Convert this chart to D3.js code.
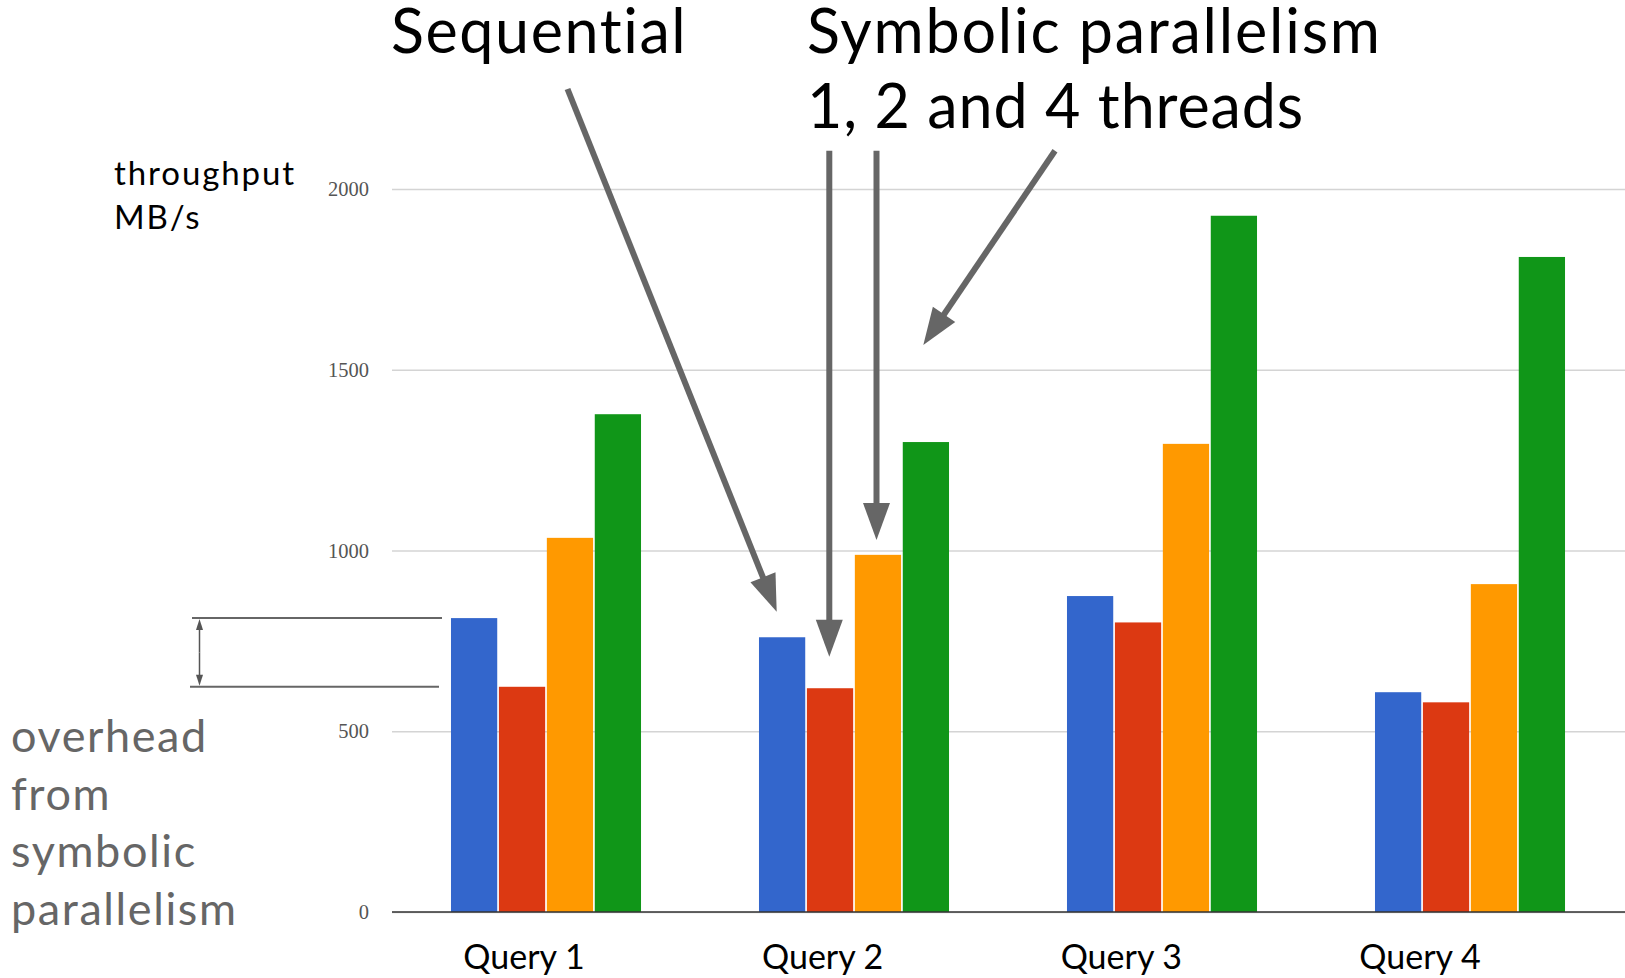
<!DOCTYPE html>
<html>
<head>
<meta charset="utf-8">
<script src="https://cdn.jsdelivr.net/npm/d3@7"></script>
<style>
  html, body { margin: 0; padding: 0; background: #fff; }
  svg { display: block; }
</style>
</head>
<body>
<svg id="chart" width="1625" height="978"></svg>
<script>
// Throughput (MB/s) per query: sequential vs. symbolic parallelism on 1, 2 and 4 threads
const categories = ["Query 1", "Query 2", "Query 3", "Query 4"];
const seriesNames = ["Sequential", "1 thread", "2 threads", "4 threads"];
const sequential = [813, 760, 874, 608];
const oneThread = [623, 619, 801, 580];
const twoThreads = [1035, 988, 1295, 907];
const fourThreads = [1377, 1300, 1926, 1812];
const yTicks = [0, 500, 1000, 1500, 2000];
const seriesColors = ["#3366cc", "#dc3912", "#ff9900", "#109618"];

const seriesValues = [sequential, oneThread, twoThreads, fourThreads];
const rows = categories.map((c, i) => ({
  category: c,
  values: seriesNames.map((s, j) => ({ series: s, value: seriesValues[j][i], color: seriesColors[j] }))
}));

const svg = d3.select("#chart");
const sans = "Lato, 'Open Sans', sans-serif";

const plotLeft = 392, plotRight = 1625;
const x0 = d3.scaleBand().domain(categories).range([392, 1624]).paddingInner(0.383).paddingOuter(0.1915);
const x1 = d3.scaleBand().domain(seriesNames).range([0, x0.bandwidth()]).paddingInner(0.035);
const y = d3.scaleLinear().domain([0, 2000]).range([912, 189]);

// gridlines and value labels
const yAxis = svg.append("g")
  .attr("transform", `translate(${plotLeft},0)`)
  .call(d3.axisLeft(y).tickValues(yTicks).tickFormat(d3.format("d"))
    .tickSize(-(plotRight - plotLeft)).tickPadding(23));
yAxis.select(".domain").remove();
yAxis.selectAll(".tick line").attr("stroke", "#d4d4d4").attr("stroke-width", 1.5);
yAxis.selectAll(".tick text")
  .attr("font-family", "'Liberation Serif', 'Times New Roman', serif")
  .attr("font-size", 20.5)
  .attr("fill", "#555");

// grouped bars
const groups = svg.append("g").selectAll("g")
  .data(rows).join("g")
  .attr("transform", d => `translate(${x0(d.category)},0)`);
groups.selectAll("rect")
  .data(d => d.values).join("rect")
  .attr("x", d => x1(d.series))
  .attr("width", x1.bandwidth())
  .attr("y", d => y(d.value))
  .attr("height", d => y(0) - y(d.value))
  .attr("fill", d => d.color);

// baseline
svg.append("line")
  .attr("x1", plotLeft).attr("x2", plotRight)
  .attr("y1", y(0)).attr("y2", y(0))
  .attr("stroke", "#333").attr("stroke-width", 1.5);

// category labels
const labelX = d3.scalePoint().domain(categories).range([524, 1420]);
svg.append("g").selectAll("text")
  .data(categories).join("text")
  .attr("x", d => labelX(d))
  .attr("y", 969)
  .attr("text-anchor", "middle")
  .attr("font-family", sans)
  .attr("font-size", 34)
  .attr("fill", "#000")
  .text(d => d);

// axis title
const yTitle = svg.append("text")
  .attr("font-family", sans).attr("font-size", 33).attr("fill", "#000")
  .attr("letter-spacing", 1.9);
yTitle.append("tspan").attr("x", 114).attr("y", 185).text("throughput");
yTitle.append("tspan").attr("x", 114).attr("y", 228.5).text("MB/s");

// headline annotations
const headline = svg.append("g")
  .attr("font-family", sans).attr("font-size", 61).attr("fill", "#000");
headline.append("text").attr("x", 391).attr("y", 53).attr("letter-spacing", 1.6).text("Sequential");
headline.append("text").attr("x", 807).attr("y", 53).attr("letter-spacing", 1.8).text("Symbolic parallelism");
headline.append("text").attr("x", 807).attr("y", 128).attr("letter-spacing", 0.9).text("1, 2 and 4 threads");

// thick pointer arrows
function arrow(g, sx, sy, tx, ty, headLen, headW, width, color) {
  const dx = tx - sx, dy = ty - sy, len = Math.hypot(dx, dy);
  const ux = dx / len, uy = dy / len, px = -uy, py = ux;
  const bx = tx - ux * headLen, by = ty - uy * headLen;
  g.append("line")
    .attr("x1", sx).attr("y1", sy)
    .attr("x2", bx + ux * 2).attr("y2", by + uy * 2)
    .attr("stroke", color).attr("stroke-width", width);
  g.append("path")
    .attr("d", d3.line()([[tx, ty], [bx + px * headW / 2, by + py * headW / 2], [bx - px * headW / 2, by - py * headW / 2]]) + "Z")
    .attr("fill", color);
}
const pointers = [
  [567.5, 89, 776.7, 611.7],
  [829.3, 150.7, 829.3, 656.7],
  [876.5, 150.7, 876.5, 540],
  [1055, 150.7, 923.3, 345]
];
const arrowLayer = svg.append("g");
pointers.forEach(p => arrow(arrowLayer, p[0], p[1], p[2], p[3], 37, 27, 6, "#666"));

// overhead bracket between sequential and 1-thread throughput of the first query
const bracket = svg.append("g");
const yHi = y(sequential[0]), yLo = y(oneThread[0]);
bracket.append("line").attr("x1", 192).attr("x2", 442).attr("y1", yHi).attr("y2", yHi)
  .attr("stroke", "#666").attr("stroke-width", 2);
bracket.append("line").attr("x1", 190).attr("x2", 439).attr("y1", yLo).attr("y2", yLo)
  .attr("stroke", "#666").attr("stroke-width", 2);
arrow(bracket, 199.5, (yHi + yLo) / 2, 199.5, yHi + 1, 11, 7, 1.5, "#555");
arrow(bracket, 199.5, (yHi + yLo) / 2, 199.5, yLo - 1, 11, 7, 1.5, "#555");

const note = svg.append("text")
  .attr("font-family", sans).attr("font-size", 45).attr("fill", "#666")
  .attr("letter-spacing", 1.6);
["overhead", "from", "symbolic", "parallelism"].forEach((t, i) => {
  note.append("tspan").attr("x", 11).attr("y", 751.7 + i * 57.8).text(t);
});
</script>
</body>
</html>
